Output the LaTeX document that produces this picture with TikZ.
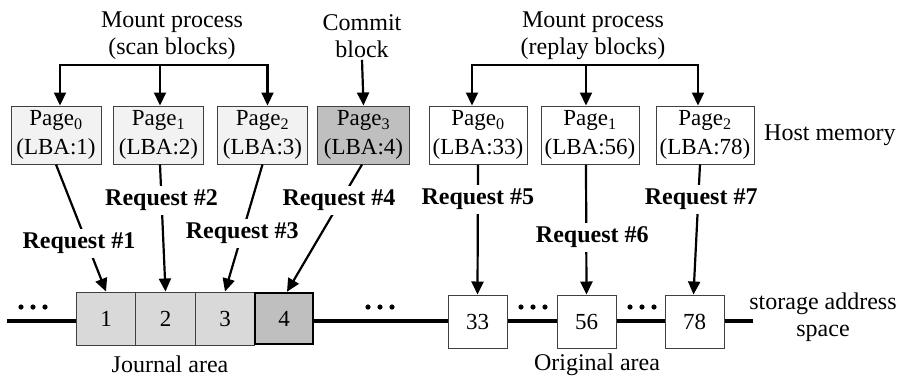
\documentclass[tikz,border=0pt]{standalone}
\usepackage{fontspec}
\setmainfont{Liberation Serif}
\usetikzlibrary{arrows.meta}

\definecolor{pagelight}{HTML}{F2F2F2}
\definecolor{pagedark}{HTML}{BFBFBF}
\definecolor{jrnl}{HTML}{D9D9D9}
\definecolor{edge}{HTML}{404040}

\tikzset{
  lbl/.style={font=\fontsize{24}{27}\selectfont, align=center, inner sep=0pt},
  pagebox/.style={draw=edge, line width=1pt, minimum height=58pt, inner sep=0pt,
    align=center, font=\fontsize{23}{29}\selectfont},
  blockbox/.style={draw=edge, line width=1pt, minimum height=53pt, minimum width=59.5pt,
    inner sep=0pt, font=\fontsize{23}{25}\selectfont},
  arr/.style={line width=2.2pt, -{Triangle[length=13pt,width=12pt]}},
  reqlabel/.style={fill=white, inner sep=4pt, font=\bfseries\fontsize{24}{26}\selectfont},
  addr/.style={line width=3.5pt},
}

\begin{document}
\begin{tikzpicture}[x=1pt, y=-1pt]
\useasboundingbox (0,0) rectangle (903,376);

% storage address line (behind the blocks)
\coordinate (lineL) at (7,321);
\coordinate (lineR) at (753,321);
\draw[addr] (lineL) -- (lineR);

% captions above the host pages
\node[lbl] (mp1) at (172,36) {Mount process\\(scan blocks)};
\node[lbl] (commit) at (362,36) {Commit\\block};
\node[lbl] (mp2) at (593,36) {Mount process\\(replay blocks)};

% host memory pages
\node[pagebox, fill=pagelight, minimum width=90pt] (P0) at (56,135) {Page\textsubscript{0}\\(LBA:1)};
\node[pagebox, fill=pagelight, minimum width=90pt] (P1) at (158.5,135) {Page\textsubscript{1}\\(LBA:2)};
\node[pagebox, fill=pagelight, minimum width=90pt] (P2) at (262.5,135) {Page\textsubscript{2}\\(LBA:3)};
\node[pagebox, fill=pagedark, minimum width=92pt] (P3) at (363.5,135) {Page\textsubscript{3}\\(LBA:4)};
\node[pagebox, fill=white, minimum width=98pt] (R0) at (478,135) {Page\textsubscript{0}\\(LBA:33)};
\node[pagebox, fill=white, minimum width=98pt] (R1) at (590,135) {Page\textsubscript{1}\\(LBA:56)};
\node[pagebox, fill=white, minimum width=98pt] (R2) at (705,135) {Page\textsubscript{2}\\(LBA:78)};
\node[lbl, anchor=west] (host) at (764,135) {Host memory};

% scan-blocks bracket
\coordinate (b1) at (160,65);
\draw[arr] (b1) -| ([xshift=4pt]P0.north);
\draw[arr] (b1) -- (b1 |- P1.north);
\draw[arr] (b1) -| ([xshift=5pt]P2.north);

% commit block arrow
\coordinate (c0) at ([yshift=-2pt]commit.south);
\draw[arr] (c0) -- (P3.north);

% replay-blocks bracket
\coordinate (b2) at (586,65);
\draw[arr] (b2) -| ([xshift=-6pt]R0.north);
\draw[arr] (b2) -- (b2 |- R1.north);
\draw[arr] (b2) -| ([xshift=-7pt]R2.north);

% journal area blocks
\node[blockbox, fill=jrnl] (J1) at (106,318.5) {1};
\node[blockbox, fill=jrnl] (J2) at (165.5,318.5) {2};
\node[blockbox, fill=jrnl] (J3) at (225,318.5) {3};
\node[blockbox, fill=pagedark, draw=black, line width=2.5pt, minimum width=58pt, minimum height=51pt] (J4) at (284,318.5) {4};

% original area blocks
\node[blockbox, fill=white, minimum width=59pt] (B33) at (477.5,321.5) {33};
\node[blockbox, fill=white, minimum width=59pt] (B56) at (586.5,321.5) {56};
\node[blockbox, fill=white, minimum width=59pt] (B78) at (694.5,321.5) {78};

% ellipses along the address space
\foreach \cx in {33,380,533,642}
  \foreach \d in {-12,0,12}
    \fill (\cx+\d,307) circle (2.6pt);

% area captions
\node[lbl] (jarea) at (170,364) {Journal area};
\node[lbl] (oarea) at (597,365) {Original area};
\node[lbl] (space) at (823,317) {storage address\\space};

% I/O requests
\draw[arr] (P0.south) -- node[reqlabel, pos=0.62, xshift=-8pt] {Request \#1} (J1.north);
\draw[arr] ([xshift=1.5pt]P1.south) -- node[reqlabel, pos=0.28] {Request \#2} (J2.north);
\draw[arr] (P2.south) -- node[reqlabel, pos=0.54] {Request \#3} (J3.north);
\draw[arr] ([xshift=-1.5pt]P3.south) -- node[reqlabel, pos=0.28, xshift=-2pt] {Request \#4} ([xshift=3pt]J4.north);
\draw[arr] (R0.south) -- node[reqlabel, pos=0.27] {Request \#5} (B33.north);
\draw[arr] ([xshift=-4pt]R1.south) -- node[reqlabel, pos=0.56, xshift=6pt] {Request \#6} (B56.north);
\draw[arr] ([xshift=-5pt]R2.south) -- node[reqlabel, pos=0.27, xshift=3pt] {Request \#7} ([xshift=-1pt]B78.north);
\end{tikzpicture}
\end{document}
